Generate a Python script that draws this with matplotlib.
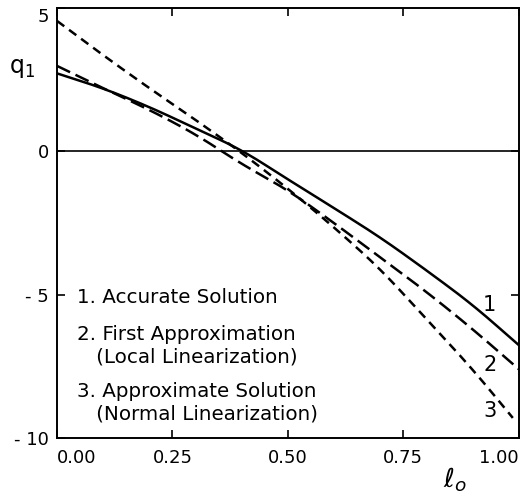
import matplotlib
matplotlib.use("Agg")
import matplotlib.pyplot as plt
import numpy as np

# values
l0 = [0.0, 0.1, 0.2, 0.3, 0.4, 0.5, 0.6, 0.7, 0.8, 0.9, 1.0]
q_accurate = [2.72, 2.2, 1.55, 0.8, 0.05, -0.98, -1.98, -3.0, -4.15, -5.35, -6.76]
q_first = [2.98, 2.2, 1.45, 0.6, -0.45, -1.35, -2.5, -3.7, -4.9, -6.2, -7.6]
l0_normal = [0.0, 0.1, 0.2, 0.3, 0.4, 0.5, 0.6, 0.7, 0.8, 0.9, 0.987]
q_normal = [4.55, 3.35, 2.2, 1.1, -0.05, -1.3, -2.65, -4.1, -5.85, -7.6, -9.3]

xticks = [0.0, 0.25, 0.5, 0.75, 1.0]
xticklabels = ["0.00", "0.25", "0.50", "0.75", "1.00"]
yticks = [-10, -5, 0, 5]
yticklabels = ["- 10", "- 5", "0", "5"]

legend_lines = ["1. Accurate Solution", "2. First Approximation", "   (Local Linearization)",
                "3. Approximate Solution", "   (Normal Linearization)"]

plt.rcParams["font.family"] = "DejaVu Sans"

fig = plt.figure(figsize=(5.23, 4.94), dpi=100)
ax = fig.add_axes([0.109, 0.1134, 0.883, 0.8704])


def smooth(x, y):
    xs = np.linspace(x[0], x[-1], 200)
    ys = np.interp(xs, x, y)
    k = 9
    pad = np.pad(ys, k, mode="reflect", reflect_type="odd")
    ys = np.convolve(pad, np.ones(2 * k + 1) / (2 * k + 1), mode="same")[k:-k]
    return xs, ys


ax.plot(*smooth(l0, q_accurate), color="black", lw=1.8)
ax.plot(*smooth(l0, q_first), color="black", lw=1.8, dashes=(5.8, 2.4))
ax.plot(*smooth(l0_normal, q_normal), color="black", lw=1.8, dashes=(3.6, 2.4))

ax.axhline(0, color="black", lw=1.2)

ax.set_xlim(0, 1)
ax.set_ylim(-10, 5)
ax.set_xticks(xticks)
ax.set_xticklabels(xticklabels, fontsize=13)
labs = ax.get_xticklabels()
labs[0].set_ha("left")
labs[-1].set_ha("right")
ax.set_yticks(yticks)
ax.set_yticklabels(yticklabels, fontsize=13)
ax.tick_params(axis="both", direction="in", length=6, width=1.2,
               top=True, right=True)
ax.tick_params(axis="x", pad=8)
ax.tick_params(axis="y", pad=6)
ax.get_yticklabels()[-1].set_va("top")
for s in ax.spines.values():
    s.set_linewidth(1.4)

# curve numbers
ax.text(0.937, -5.37, "1", fontsize=15, ha="center", va="center")
ax.text(0.937, -7.46, "2", fontsize=15, ha="center", va="center")
ax.text(0.937, -9.06, "3", fontsize=15, ha="center", va="center")

ys = [0.326, 0.24, 0.188, 0.107, 0.056]
for t, y in zip(legend_lines, ys):
    ax.text(0.043, y, t, transform=ax.transAxes, fontsize=14.3, va="center", ha="left")

ax.text(-0.075, 0.86, "q$_1$", transform=ax.transAxes, fontsize=17,
        ha="center", va="center")
fig.text(455 / 523, 1 - 480 / 494, r"$\ell_o$", fontsize=19, ha="center", va="center")

fig.savefig("out.png", dpi=100)
